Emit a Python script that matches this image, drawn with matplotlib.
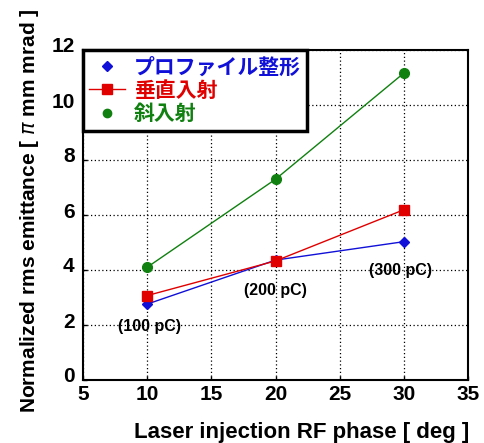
import matplotlib
matplotlib.use('Agg')
import matplotlib.pyplot as plt
import matplotlib.transforms as mtransforms
from matplotlib.lines import Line2D

# data
phase = [10, 20, 30]
profile = [2.76, 4.36, 5.03]
vertical = [3.07, 4.33, 6.19]
oblique = [4.10, 7.30, 11.16]
labels = ['プロファイル整形', '垂直入射', '斜入射']
charge_text = ['(100 pC)', '(200 pC)', '(300 pC)']
charge_pos = [(10.15, 1.93), (20.0, 3.27), (29.75, 4.0)]

plt.rcParams['font.family'] = ['Liberation Sans', 'Noto Sans CJK JP', 'DejaVu Sans']

blue = '#1010d8'
red = '#e00000'
green = '#108010'

fig = plt.figure(figsize=(4.84, 4.43), dpi=100)
ax = fig.add_axes([83 / 484, 1 - 380 / 443, 385 / 484, 330 / 443])

ax.plot(phase, profile, color=blue, lw=1, marker='D', ms=5.5)
ax.plot(phase, vertical, color=red, lw=1, marker='s', ms=7.5)
ax.plot(phase, oblique, color=green, lw=1, marker='o', ms=7)

for t, (xx, yy) in zip(charge_text, charge_pos):
    ax.text(xx, yy, t, ha='center', va='center', fontsize=11.5, fontweight='bold')

ax.set_xlim(5, 35)
ax.set_ylim(0, 12)
ax.set_xticks(range(5, 36, 5))
ax.set_yticks(range(0, 13, 2))
ax.grid(True, color='black', linestyle=(0, (1, 2)), linewidth=0.9)
ax.tick_params(labelsize=15, direction='in', length=3, width=1)
ax.tick_params(axis='y', pad=6)
shift = mtransforms.ScaledTranslation(0, 5 / 100, fig.dpi_scale_trans)
for lab in ax.get_yticklabels():
    lab.set_transform(lab.get_transform() + shift)
for lab in ax.get_xticklabels() + ax.get_yticklabels():
    lab.set_fontweight('bold')
for s in ax.spines.values():
    s.set_linewidth(1.5)

ax.set_xlabel('Laser injection RF phase [ deg ]', fontsize=16, fontweight='bold')
ax.set_ylabel('Normalized rms emittance [ $\\pi$ mm mrad ]', fontsize=15, fontweight='bold')
ax.xaxis.set_label_coords(0.569, -0.127)
ax.yaxis.set_label_coords(-0.108, 0.512)

handles = [
    Line2D([], [], color=blue, lw=0, marker='D', ms=5),
    Line2D([], [], color=red, lw=1, marker='s', ms=7),
    Line2D([], [], color=green, lw=0, marker='o', ms=6),
]
leg = ax.legend(handles, labels, loc='upper left', bbox_to_anchor=(0.0, 1.0),
                fancybox=False, framealpha=1, edgecolor='black', borderaxespad=0,
                prop={'family': ['Noto Sans CJK JP'], 'weight': 'bold', 'size': 15},
                handlelength=1.7, handletextpad=0.45, labelspacing=0.12, borderpad=0.3)
leg.get_frame().set_linewidth(2.5)
for t, c in zip(leg.get_texts(), [blue, red, green]):
    t.set_color(c)

fig.savefig('out.png', dpi=100)
